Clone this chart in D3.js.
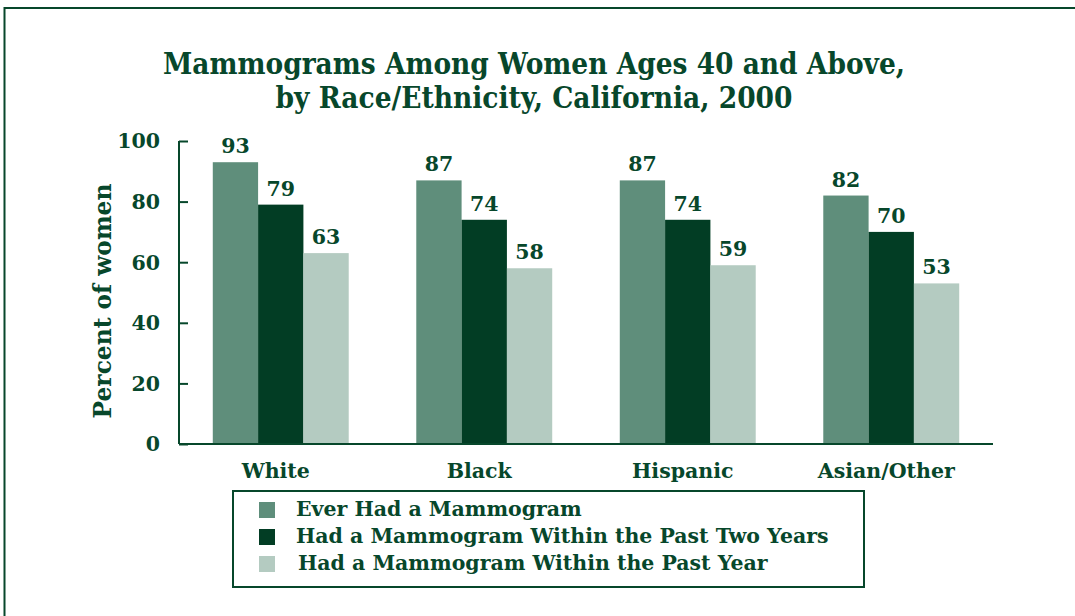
<!DOCTYPE html>
<html>
<head>
<meta charset="utf-8">
<script src="https://cdn.jsdelivr.net/npm/d3@7"></script>
<style>
  html, body { margin: 0; padding: 0; background: #fff; }
  svg { display: block; }
  text { font-family: "DejaVu Serif", "Liberation Serif", serif; font-weight: bold; fill: #07472b; }
</style>
</head>
<body>
<svg id="chart" width="1075" height="616"></svg>
<script>
const categories = ["White", "Black", "Hispanic", "Asian/Other"];
const everHad = [93, 87, 87, 82];
const pastTwoYears = [79, 74, 74, 70];
const pastYear = [63, 58, 59, 53];
const seriesNames = ["Ever Had a Mammogram", "Had a Mammogram Within the Past Two Years", "Had a Mammogram Within the Past Year"];
const yTicks = [0, 20, 40, 60, 80, 100];
const titleLines = ["Mammograms Among Women Ages 40 and Above,", "by Race/Ethnicity, California, 2000"];
const yLabel = "Percent of women";

const seriesValues = [everHad, pastTwoYears, pastYear];
const colors = ["#5f8e7b", "#023d24", "#b4cbc1"];
const ink = "#07472b";

const svg = d3.select("#chart");

// fit text to a target width by scaling font size
function fit(sel, base, target) {
  sel.style("font-size", base + "px");
  const w = sel.node().getComputedTextLength();
  const fs = base * target / w;
  sel.style("font-size", fs + "px");
  return fs;
}

// outer frame
svg.append("path")
  .attr("d", "M4.5,616 L4.5,8 L1075,8")
  .attr("fill", "none").attr("stroke", ink).attr("stroke-width", 2);

// title (taller, slightly condensed glyphs like the original)
svg.append("text").attr("x", 534).attr("y", 74).attr("text-anchor", "middle")
  .style("font-size", "29px").attr("textLength", 742).attr("lengthAdjust", "spacingAndGlyphs")
  .text(titleLines[0]);
svg.append("text").attr("x", 534).attr("y", 108).attr("text-anchor", "middle")
  .style("font-size", "29px").attr("textLength", 517).attr("lengthAdjust", "spacingAndGlyphs")
  .text(titleLines[1]);

// scales
const x0 = d3.scaleBand().domain(categories).range([179, 993]).paddingInner(0.332).paddingOuter(0.166);
const x1 = d3.scaleBand().domain(d3.range(3)).range([0, x0.bandwidth()]);
const y = d3.scaleLinear().domain([0, 100]).range([444, 141]);

// bars
const groups = svg.append("g").selectAll("g").data(categories).join("g")
  .attr("transform", d => `translate(${x0(d)},0)`);

groups.selectAll("rect").data((d, i) => seriesValues.map((s, k) => ({ k, v: s[i] }))).join("rect")
  .attr("x", d => x1(d.k))
  .attr("width", x1.bandwidth())
  .attr("y", d => y(d.v))
  .attr("height", d => y(0) - y(d.v))
  .attr("fill", d => colors[d.k]);

groups.selectAll("text.val").data((d, i) => seriesValues.map((s, k) => ({ k, v: s[i] }))).join("text")
  .attr("class", "val")
  .attr("x", d => x1(d.k) + x1.bandwidth() / 2)
  .attr("y", d => y(d.v) - 9)
  .attr("text-anchor", "middle")
  .style("font-size", "20.5px")
  .text(d => d.v);

// y axis
const yAxis = svg.append("g").attr("transform", "translate(179,0)")
  .call(d3.axisRight(y).tickValues(yTicks).tickSize(9).tickFormat(""));
yAxis.select(".domain").attr("d", `M0,${y(100)}V${y(0)}`).attr("stroke", ink).attr("stroke-width", 2);
yAxis.selectAll(".tick line").attr("stroke", ink).attr("stroke-width", 2);

svg.append("g").selectAll("text").data(yTicks).join("text")
  .attr("x", 160).attr("y", d => y(d)).attr("dy", "0.36em")
  .attr("text-anchor", "end").style("font-size", "20.5px")
  .text(d => d);

// x axis baseline
const xAxis = svg.append("g").attr("transform", `translate(0,${y(0)})`)
  .call(d3.axisBottom(x0).tickSize(0).tickFormat(""));
xAxis.select(".domain").attr("d", "M179,0H993").attr("stroke", ink).attr("stroke-width", 2);

svg.append("g").selectAll("text").data(categories).join("text")
  .attr("x", d => x0(d) + x0.bandwidth() / 2 - 5)
  .attr("y", 478)
  .attr("text-anchor", "middle").style("font-size", "20.5px")
  .text(d => d);

// y label
const yl = svg.append("text")
  .attr("transform", "translate(111,301) rotate(-90)")
  .attr("text-anchor", "middle").text(yLabel);
fit(yl, 22, 235);

// legend
svg.append("rect").attr("x", 233).attr("y", 491).attr("width", 631).attr("height", 96)
  .attr("fill", "none").attr("stroke", ink).attr("stroke-width", 2);
const leg = svg.append("g").selectAll("g").data(seriesNames).join("g")
  .attr("transform", (d, i) => `translate(259,${502 + i * 27})`);
leg.append("rect").attr("width", 16).attr("height", 16).attr("fill", (d, i) => colors[i]);
const legTexts = leg.append("text").attr("x", (d, i) => i === 2 ? 39 : 37).attr("y", 14).text(d => d);
const lfs = fit(d3.select(legTexts.nodes()[1]), 20, 533);
legTexts.style("font-size", lfs + "px");
</script>
</body>
</html>
